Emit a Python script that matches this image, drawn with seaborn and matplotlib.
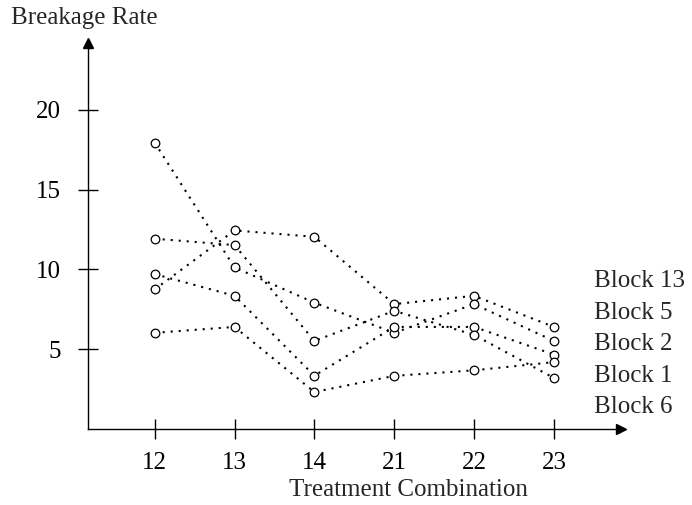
import matplotlib
matplotlib.use("Agg")
import matplotlib.pyplot as plt
import seaborn as sns
import pandas as pd

# Breakage rate by treatment combination, one dotted profile per block
treatments = ["12", "13", "14", "21", "22", "23"]
block_13 = [8.75, 12.45, 12.05, 7.83, 8.35, 6.40]
block_5 = [17.95, 10.13, 7.92, 6.03, 7.83, 5.52]
block_2 = [9.71, 8.35, 3.34, 6.40, 6.40, 4.67]
block_1 = [6.03, 6.40, 2.32, 3.33, 3.68, 4.19]
block_6 = [11.93, 11.53, 5.52, 7.41, 5.90, 3.20]
block_names = ["Block 13", "Block 5", "Block 2", "Block 1", "Block 6"]
y_ticks = [5, 10, 15, 20]

series = [block_13, block_5, block_2, block_1, block_6]
df = pd.DataFrame({
    "treatment": treatments * len(series),
    "rate": [v for s in series for v in s],
    "block": [name for name in block_names for _ in treatments],
})

sns.set_theme(style="white")
plt.rcParams["font.family"] = ["Liberation Serif", "DejaVu Serif"]
FS = 18

fig = plt.figure(figsize=(6.92, 5.05), dpi=100)
W, H = 692, 505
# axes box: y axis at x=88, x axis at y=429, arrows at x=621 / y=43
ax = fig.add_axes([88 / W, (H - 429) / H, (621 - 88) / W, (429 - 43) / H])

sns.lineplot(
    data=df, x="treatment", y="rate", hue="block", units="block",
    estimator=None, sort=False, palette=["black"] * len(series),
    marker="o", markersize=6.2, markerfacecolor="white",
    markeredgecolor="black", markeredgewidth=0.9,
    linestyle=(0, (1, 2.85)), linewidth=1.5, dashes=False,
    legend=False, ax=ax,
)

ax.set_xlim(-0.835, 5.84)
ax.set_ylim(0, 24.2)
ax.set_yticks(y_ticks)
ax.set_yticklabels([str(t) for t in y_ticks])
ax.set_xlabel("")
ax.set_ylabel("")

for side in ("top", "right"):
    ax.spines[side].set_visible(False)
for side in ("left", "bottom"):
    ax.spines[side].set_color("black")
    ax.spines[side].set_linewidth(1.0)

ax.tick_params(axis="both", direction="inout", length=15, width=1.0,
               color="black", labelcolor="black", labelsize=FS)
ax.tick_params(axis="y", pad=12, left=True)
ax.tick_params(axis="x", pad=9, bottom=True)

# arrow heads at the ends of both axes
ax.plot(1, 0, marker=">", color="black", markersize=7, transform=ax.transAxes,
        clip_on=False)
ax.plot(0, 1, marker="^", color="black", markersize=7, transform=ax.transAxes,
        clip_on=False)

# block names stacked at the right, ordered by final value
label_x = (594 - 88) / (621 - 88)
label_top = (429 - 281) / (429 - 43)
label_step = 31.6 / (429 - 43)
for i, name in enumerate(block_names):
    ax.text(label_x, label_top - i * label_step, name, transform=ax.transAxes,
            ha="left", va="center", fontsize=FS)

fig.text(11 / W, 1 - 18 / H, "Breakage Rate", ha="left", va="center", fontsize=FS)
fig.text(408 / W, 1 - 490 / H, "Treatment Combination", ha="center", va="center",
         fontsize=FS)

fig.savefig("out.png", dpi=100, facecolor="white")
